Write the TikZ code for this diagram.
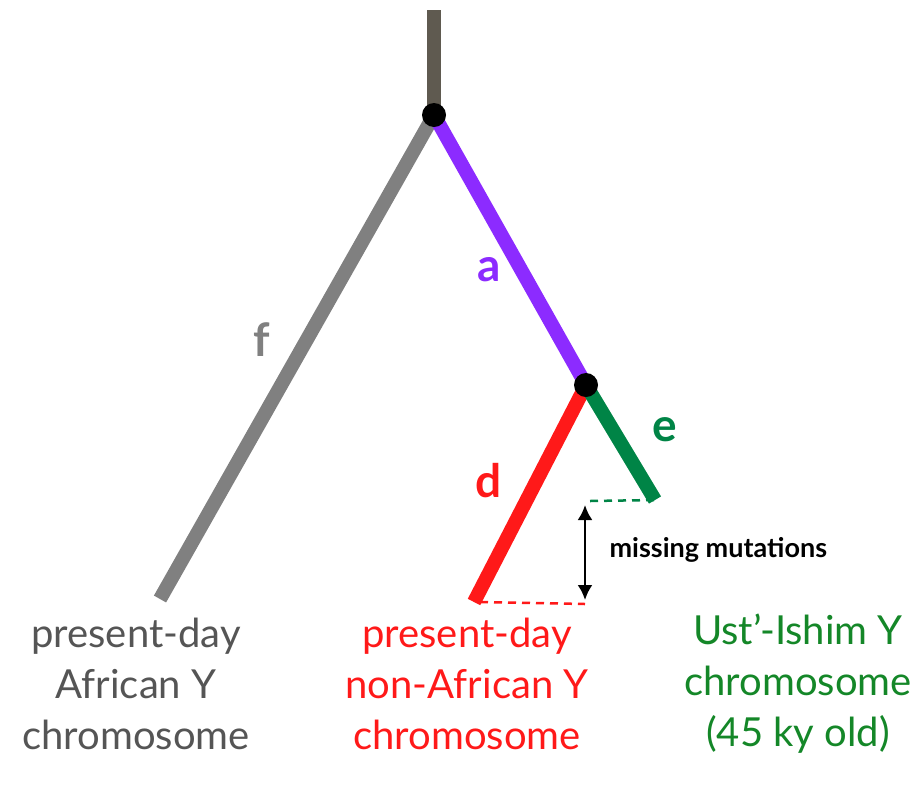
\documentclass[tikz,border=0pt]{standalone}
\usepackage{fontspec}
\setmainfont{Lato}
\usetikzlibrary{arrows.meta}
\definecolor{stemcol}{RGB}{95,90,80}
\definecolor{fcol}{RGB}{128,128,128}
\definecolor{acol}{RGB}{140,43,255}
\definecolor{dcol}{RGB}{255,25,25}
\definecolor{ecol}{RGB}{0,132,70}
\definecolor{txtgray}{RGB}{85,85,85}
\definecolor{txtgreen}{RGB}{20,135,40}
\tikzset{
  branch/.style={line width=14pt},
  brlabel/.style={font=\fontsize{46}{46}\selectfont\bfseries},
  tiplabel/.style={align=center,font=\fontsize{40}{51}\selectfont},
  gapline/.style={line width=2.5pt,dash pattern=on 8pt off 6pt}
}
\begin{document}
\begin{tikzpicture}[x=1pt,y=-1pt]
\useasboundingbox (0,0) rectangle (923,788);

\coordinate (top) at (434,10);
\coordinate (root) at (434,115);
\coordinate (split) at (586,385);
\coordinate (fend) at (160,599);
\coordinate (dend) at (474,602);
\coordinate (eend) at (655,500);
\coordinate (egap) at (590,501);
\coordinate (dgap) at (585,604);
\coordinate (arrtop) at (585,505);
\coordinate (arrbot) at (585,600);

\draw[branch,stemcol] (top) -- (root);
\draw[branch,fcol] (root) -- (fend);
\draw[branch,acol] (root) -- (split);
\draw[branch,dcol] (split) -- (dend);
\draw[branch,ecol] (split) -- (eend);

\fill[black] (root) circle(12);
\fill[black] (split) circle(12);

\draw[gapline,ecol] (egap) -- (eend);
\draw[gapline,dcol] ([xshift=6pt]dend) -- (dgap);
\draw[line width=2.5pt,{Latex[length=15pt,width=15pt]}-{Latex[length=15pt,width=15pt]}] (arrtop) -- (arrbot);

\node[brlabel,fcol] (flab) at (262,340) {f};
\node[brlabel,acol] (alab) at (489,270) {a};
\node[brlabel,dcol] (dlab) at (489,481) {d};
\node[brlabel,ecol] (elab) at (665,430) {e};
\node[font=\fontsize{27}{27}\selectfont\bfseries,anchor=west] (miss) at (606,550) {missing mutations};

\node[tiplabel,txtgray] (afr) at (136,684) {present-day\\African Y\\chromosome};
\node[tiplabel,dcol] (nonafr) at (467,684) {present-day\\non-African Y\\chromosome};
\node[tiplabel,txtgreen] (ust) at (798,684) {Ust'-Ishim Y\\chromosome\\(45 ky old)};
\end{tikzpicture}
\end{document}
